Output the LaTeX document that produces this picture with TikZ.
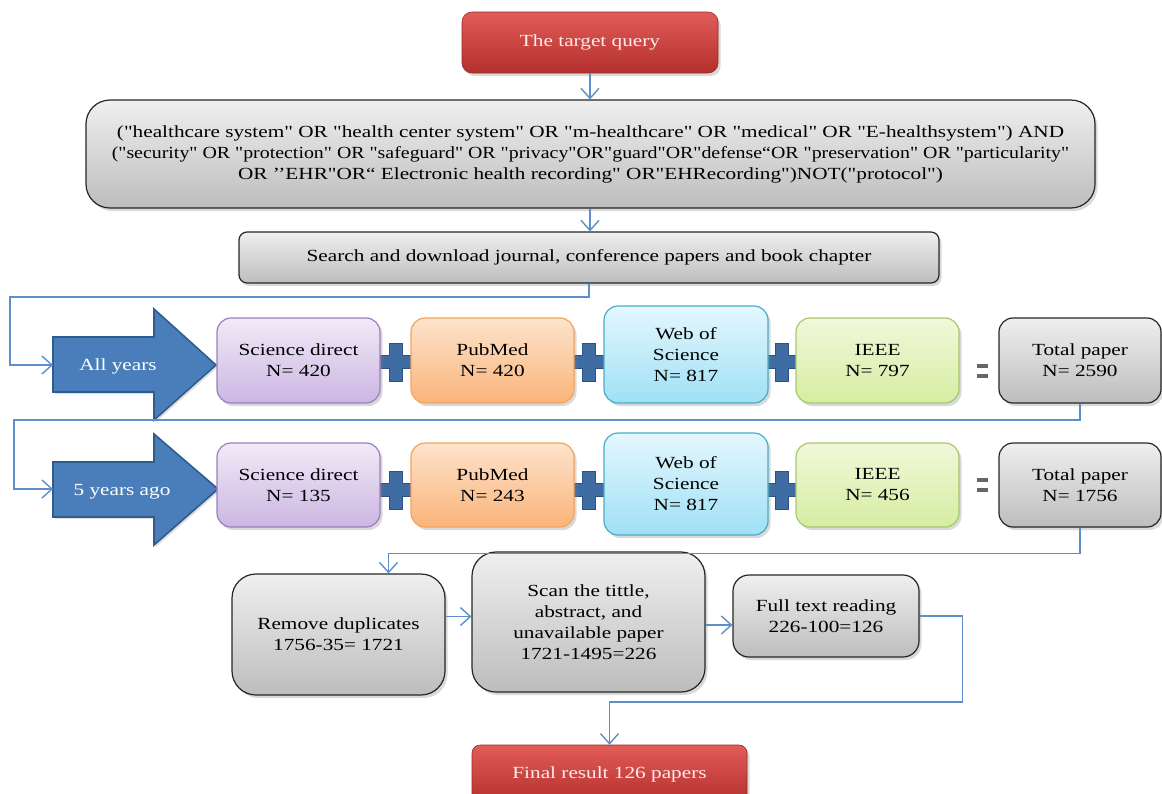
\documentclass[tikz,border=0pt]{standalone}
\usepackage{fontspec}
\newfontfamily\dfont{Liberation Serif}[FakeStretch=1.25]
\newfontfamily\dfontB{Liberation Serif}[FakeStretch=1.17]
\usetikzlibrary{shadows,arrows.meta,backgrounds,calc}
\definecolor{grayT}{HTML}{EFEFEF}
\definecolor{grayB}{HTML}{BDBDBD}
\definecolor{grayD}{HTML}{262626}
\definecolor{purT}{HTML}{F1EAF7}
\definecolor{purB}{HTML}{CBB6E2}
\definecolor{purD}{HTML}{9B7EC0}
\definecolor{orT}{HTML}{FDE3CC}
\definecolor{orB}{HTML}{FAB47A}
\definecolor{orD}{HTML}{F6A35A}
\definecolor{blT}{HTML}{E4F7FD}
\definecolor{blB}{HTML}{9FE0F6}
\definecolor{blD}{HTML}{4BACC6}
\definecolor{grT}{HTML}{F1F8DA}
\definecolor{grB}{HTML}{D5EDA2}
\definecolor{grD}{HTML}{A8C76E}
\definecolor{redT}{HTML}{E25C58}
\definecolor{redB}{HTML}{B3302D}
\definecolor{arrF}{HTML}{4A7EBB}
\definecolor{arrD}{HTML}{2F5C8F}
\definecolor{plusF}{HTML}{3E6CA3}
\definecolor{plusD}{HTML}{2C5283}
\definecolor{connc}{HTML}{5E8FCB}
\definecolor{eqc}{HTML}{666666}
\tikzset{
  plussign/.pic={\draw[fill=plusF,draw=plusD,line width=0.8pt]
    (-6.5,-19) -- (6.5,-19) -- (6.5,-6.5) -- (19,-6.5) -- (19,6.5) -- (6.5,6.5) -- (6.5,19)
    -- (-6.5,19) -- (-6.5,6.5) -- (-19,6.5) -- (-19,-6.5) -- (-6.5,-6.5) -- cycle;}
}
\begin{document}
\begin{tikzpicture}[x=1pt,y=-1pt,
  every node/.style={font=\dfont\fontsize{17}{21}\selectfont},
  bx/.style={rounded corners=14pt, line width=1.2pt, align=center, inner sep=0pt,
    drop shadow={shadow xshift=2.5pt, shadow yshift=-3pt, opacity=0.3}, text=black},
  graybox/.style={bx, draw=grayD, top color=grayT, bottom color=grayB},
  purbox/.style={bx, draw=purD, top color=purT, bottom color=purB},
  orbox/.style={bx, draw=orD, top color=orT, bottom color=orB},
  blbox/.style={bx, draw=blD, top color=blT, bottom color=blB},
  grbox/.style={bx, draw=grD, top color=grT, bottom color=grB},
  redbox/.style={bx, rounded corners=10pt, draw=redB!85!black, line width=0.6pt,
    top color=redT, bottom color=redB, text=white!92!red},
  bigarrow/.style={fill=arrF, draw=arrD, line width=1.6pt,
    drop shadow={shadow xshift=2pt, shadow yshift=-2pt, opacity=0.25}},
  arrtext/.style={text=white},
  conn/.style={draw=connc, line width=1.4pt,
    -{Straight Barb[length=10pt,width=18pt,line width=1.4pt]}}
]
\useasboundingbox (0,0) rectangle (1162,793);

% top
\node[redbox, minimum width=256, minimum height=61] (tq) at (590,42.5) {The target query};
\node[graybox, rounded corners=24pt, minimum width=1009, minimum height=108] (qb) at (590.5,154)
 {("healthcare system" OR "health center system" OR "m-healthcare" OR "medical" OR "E-healthsystem") AND\\
  {\dfontB ("security" OR "protection" OR "safeguard" OR "privacy"OR"guard"OR"defense“OR "preservation" OR "particularity"}\\
  OR ’’EHR"OR“ Electronic health recording" OR"EHRecording")NOT("protocol")};
\node[graybox, rounded corners=8pt, minimum width=700, minimum height=51] (sb) at (589,257.5)
 {Search and download journal, conference papers and book chapter};

% row 1
\draw[bigarrow] (53,337) -- (154,337) -- (154,309) -- (216,365) -- (154,420) -- (154,392) -- (53,392) -- cycle;
\coordinate (ay) at (53,365);
\node[arrtext] (tay) at (118,366) {All years};
\node[purbox, minimum width=163, minimum height=85] (sd1) at (298.5,360.5) {Science direct\\N= 420};
\node[orbox, minimum width=163, minimum height=85] (pm1) at (492.5,360.5) {PubMed\\N= 420};
\node[blbox, minimum width=164, minimum height=97] (ws1) at (686,354.5) {Web of\\Science\\N= 817};
\node[grbox, minimum width=163, minimum height=85] (ie1) at (877.5,360.5) {IEEE\\N= 797};
\node[graybox, minimum width=162, minimum height=85] (tp1) at (1080,360.5) {Total paper\\N= 2590};

% row 2
\draw[bigarrow] (53,462) -- (154,462) -- (154,434) -- (218,489) -- (154,545) -- (154,517) -- (53,517) -- cycle;
\coordinate (a5) at (53,489);
\node[arrtext] (ta5) at (122,492) {5 years ago};
\node[purbox, minimum width=163, minimum height=84] (sd2) at (298.5,485) {Science direct\\N= 135};
\node[orbox, minimum width=163, minimum height=84] (pm2) at (492.5,485) {PubMed\\N= 243};
\node[blbox, minimum width=164, minimum height=102] (ws2) at (686,484) {Web of\\Science\\N= 817};
\node[grbox, minimum width=163, minimum height=84] (ie2) at (877.5,485) {IEEE\\N= 456};
\node[graybox, minimum width=162, minimum height=84] (tp2) at (1080,485) {Total paper\\N= 1756};

% plus signs behind boxes
\begin{scope}[on background layer]
  \pic at ($(sd1.east)!0.5!(pm1.west)+(0,1.5)$) {plussign};
  \pic at ($(pm1.east)!0.5!(pm1.east -| ws1.west)+(0,1.5)$) {plussign};
  \pic at ($(ie1.west -| ws1.east)!0.5!(ie1.west)+(0,1.5)$) {plussign};
  \pic at ($(sd2.east)!0.5!(pm2.west)+(0,5)$) {plussign};
  \pic at ($(pm2.east)!0.5!(pm2.east -| ws2.west)+(0,5)$) {plussign};
  \pic at ($(ie2.west -| ws2.east)!0.5!(ie2.west)+(0,5)$) {plussign};
\end{scope}

% equals signs
\fill[eqc] (977,363.5) rectangle (988,367.5);
\fill[eqc] (977,373.5) rectangle (988,377.5);
\fill[eqc] (977,477.5) rectangle (988,481.5);
\fill[eqc] (977,488) rectangle (988,492);

% row 3
\node[graybox, rounded corners=24pt, minimum width=213, minimum height=121] (rd) at (338.5,634.5)
 {Remove duplicates\\1756-35= 1721};
\node[graybox, rounded corners=24pt, minimum width=233, minimum height=140] (sc) at (588.5,622)
 {Scan the tittle,\\abstract, and\\unavailable paper\\1721-1495=226};
\node[graybox, rounded corners=16pt, minimum width=186, minimum height=82] (ft) at (826,616)
 {Full text reading\\226-100=126};
\node[redbox, rounded corners=8pt, minimum width=275, minimum height=58] (fr) at (609.5,774)
 {Final result 126 papers};

% connectors
\draw[conn] (tq.south) -- (tq.south |- qb.north);
\draw[conn] (qb.south -| tq.south) -- (tq.south |- sb.north);
\draw[conn] (sb.south) |- (10,297) |- (ay);
\draw[conn] (tp1.south) |- (14,420) |- (a5);
\draw[conn] (tp2.south) -- ++(0,26) -| ([xshift=50pt]rd.north);
\draw[conn] ([yshift=18pt]rd.east) -- ([yshift=18pt]rd.east -| sc.west);
\draw[conn] ([yshift=-3pt]sc.east) -- ([yshift=-3pt]sc.east -| ft.west);
\draw[conn] (ft.east) -- ++(43,0) -- ++(0,86) -| (fr.north);
\end{tikzpicture}
\end{document}
